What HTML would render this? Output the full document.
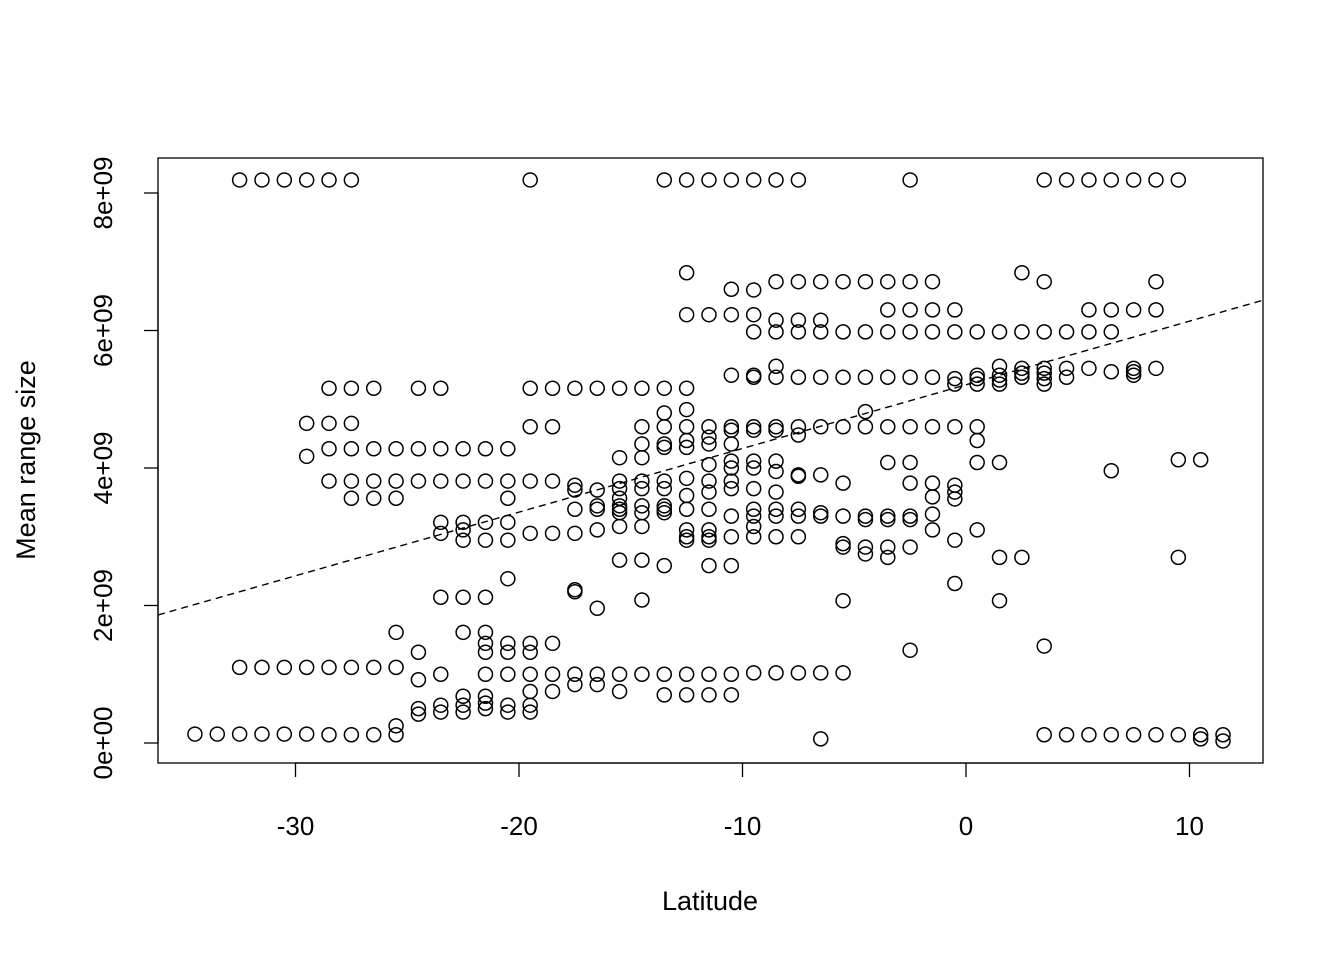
<!DOCTYPE html>
<html>
<head>
<meta charset="utf-8">
<style>
html,body{margin:0;padding:0;background:#fff;}
svg{display:block;font-family:"Liberation Sans",Arial,sans-serif;}
</style>
</head>
<body>
<svg id="chart" width="1344" height="960" viewBox="0 0 1344 960">
  <rect x="158" y="158" width="1105" height="605" fill="none" stroke="#000" stroke-width="1.3"/>
  <g id="xaxis"></g>
  <g id="yaxis"></g>
  <g id="points"></g>
  <g id="fit"></g>
  <text x="710" y="910" text-anchor="middle" font-size="27">Latitude</text>
  <text x="0" y="0" transform="translate(35,460) rotate(-90)" text-anchor="middle" font-size="27">Mean range size</text>
</svg>
<script>
const xTicks = [-30, -20, -10, 0, 10];
const yTicks = [0, 2, 4, 6, 8];
const yTickLabels = ["0e+00", "2e+09", "4e+09", "6e+09", "8e+09"];
const fitIntercept = 5.21;
const fitSlope = 0.0926;
const latitudes = [-34.5,-33.5,-32.5,-31.5,-30.5,-29.5,-28.5,-27.5,-26.5,-25.5,-24.5,-23.5,-22.5,-21.5,-20.5,-19.5,-18.5,-17.5,-16.5,-15.5,-14.5,-13.5,-12.5,-11.5,-10.5,-9.5,-8.5,-7.5,-6.5,-5.5,-4.5,-3.5,-2.5,-1.5,-0.5,0.5,1.5,2.5,3.5,4.5,5.5,6.5,7.5,8.5,9.5,10.5,11.5];
const rangeSizes = [
[0.13],[0.13],[8.19,1.10,0.13],[8.19,1.10,0.13],[8.19,1.10,0.13],
[8.19,4.65,4.17,1.10,0.13],
[8.19,5.16,4.65,4.28,3.81,1.10,0.12],
[8.19,5.16,4.65,4.28,3.81,3.56,1.10,0.12],
[5.16,4.28,3.81,3.56,1.10,0.12],
[4.28,3.81,3.56,1.61,1.10,0.25,0.12],
[5.16,4.28,3.81,1.32,0.92,0.5,0.42],
[5.16,4.28,3.81,3.21,3.05,2.12,1.0,0.55,0.45],
[4.28,3.81,3.21,3.1,2.95,2.12,1.61,0.68,0.55,0.45],
[4.28,3.81,3.21,2.95,2.12,1.61,1.45,1.32,1.0,0.68,0.58,0.5],
[4.28,3.81,3.56,3.21,2.95,2.39,1.45,1.32,1.0,0.55,0.45],
[8.19,5.16,4.6,3.81,3.05,1.45,1.32,1.0,0.75,0.55,0.45],
[5.16,4.6,3.81,3.05,1.45,1.0,0.75],
[5.16,3.75,3.68,3.4,3.05,2.23,2.2,1.0,0.85],
[5.16,3.68,3.45,3.4,3.1,1.96,1.0,0.85],
[5.16,4.15,3.81,3.7,3.56,3.45,3.4,3.35,3.15,2.66,1.0,0.75],
[5.16,4.6,4.35,4.15,3.81,3.7,3.45,3.35,3.15,2.66,2.08,1.0],
[8.19,5.16,4.8,4.6,4.35,4.3,3.81,3.7,3.45,3.4,3.35,2.58,1.0,0.7],
[8.19,6.84,6.23,5.16,4.85,4.6,4.4,4.3,3.85,3.6,3.4,3.1,3.0,2.95,1.0,0.7],
[8.19,6.23,4.6,4.45,4.35,4.05,3.81,3.65,3.4,3.1,3.0,2.95,2.58,1.0,0.7],
[8.19,6.6,6.23,5.35,4.6,4.55,4.35,4.1,4.0,3.81,3.7,3.3,3.0,2.58,1.0,0.7],
[8.19,6.59,6.23,5.98,5.35,5.32,4.6,4.55,4.1,4.0,3.7,3.4,3.3,3.15,3.0,1.02],
[8.19,6.71,6.15,5.98,5.48,5.32,4.6,4.55,4.1,3.95,3.65,3.4,3.3,3.0,1.02],
[8.19,6.71,6.15,5.98,5.32,4.6,4.48,3.9,3.88,3.4,3.3,3.0,1.02],
[6.71,6.15,5.98,5.32,4.6,3.9,3.35,3.3,1.02,0.06],
[6.71,5.98,5.32,4.6,3.78,3.3,2.9,2.85,2.07,1.02],
[6.71,5.98,5.32,4.82,4.6,3.3,3.25,2.85,2.75],
[6.71,6.3,5.98,5.32,4.6,4.08,3.3,3.25,2.85,2.7],
[8.19,6.71,6.3,5.98,5.32,4.6,4.08,3.78,3.3,3.25,2.85,1.35],
[6.71,6.3,5.98,5.32,4.6,3.78,3.58,3.33,3.1],
[6.3,5.98,5.3,5.22,4.6,3.75,3.65,3.55,2.95,2.32],
[5.98,5.35,5.3,5.22,4.6,4.4,4.08,3.1],
[5.98,5.48,5.35,5.28,5.22,4.08,2.7,2.07],
[6.84,5.98,5.45,5.38,5.32,2.7],
[8.19,6.71,5.98,5.45,5.38,5.3,5.22,1.41,0.12],
[8.19,5.98,5.45,5.32,0.12],
[8.19,6.3,5.98,5.45,0.12],
[8.19,6.3,5.98,5.4,3.96,0.12],
[8.19,6.3,5.45,5.4,5.35,0.12],
[8.19,6.71,6.3,5.45,0.12],
[8.19,4.12,2.7,0.12],
[4.12,0.12,0.06],
[0.12,0.03]
];

const NS = "http://www.w3.org/2000/svg";
const sx = v => 966 + 22.35 * v;
const sy = v => 743 - 68.75 * v;
function mk(tag, attrs, parent){
  const e = document.createElementNS(NS, tag);
  for (const k in attrs) e.setAttribute(k, attrs[k]);
  parent.appendChild(e);
  return e;
}
const xg = document.getElementById('xaxis');
mk('line',{x1:sx(-30),x2:sx(10),y1:763,y2:763,stroke:'#000','stroke-width':1.3},xg);
xTicks.forEach(t=>{
  const l = mk('line',{x1:sx(t),x2:sx(t),y1:763,y2:777,stroke:'#000','stroke-width':1.3},xg);
  
  
  const tx = mk('text',{x:sx(t),y:835,'text-anchor':'middle','font-size':26},xg);
  tx.textContent = String(t);
  
  
});
const yg = document.getElementById('yaxis');
mk('line',{x1:158,x2:158,y1:sy(0),y2:sy(8),stroke:'#000','stroke-width':1.3},yg);
yTicks.forEach((t,i)=>{
  const l = mk('line',{x1:144,x2:158,y1:sy(t),y2:sy(t),stroke:'#000','stroke-width':1.3},yg);
  
  
  const tx = mk('text',{x:0,y:0,transform:`translate(112,${sy(t)}) rotate(-90)`,'text-anchor':'middle','font-size':26},yg);
  tx.textContent = yTickLabels[i];
  
  
});
const pg = document.getElementById('points');
latitudes.forEach((lat,i)=>{
  rangeSizes[i].forEach(v=>{
    const c = mk('circle',{cx:sx(lat),cy:sy(v),r:7,fill:'none',stroke:'#000','stroke-width':1.5},pg);
    
    
  });
});
const fg = document.getElementById('fit');
const xa = -36.15, xb = 13.29;
const fl = mk('line',{x1:sx(xa),y1:sy(fitIntercept+fitSlope*xa),x2:sx(xb),y2:sy(fitIntercept+fitSlope*xb),stroke:'#000','stroke-width':1.4,'stroke-dasharray':'7,5'},fg);


</script>
</body>
</html>
